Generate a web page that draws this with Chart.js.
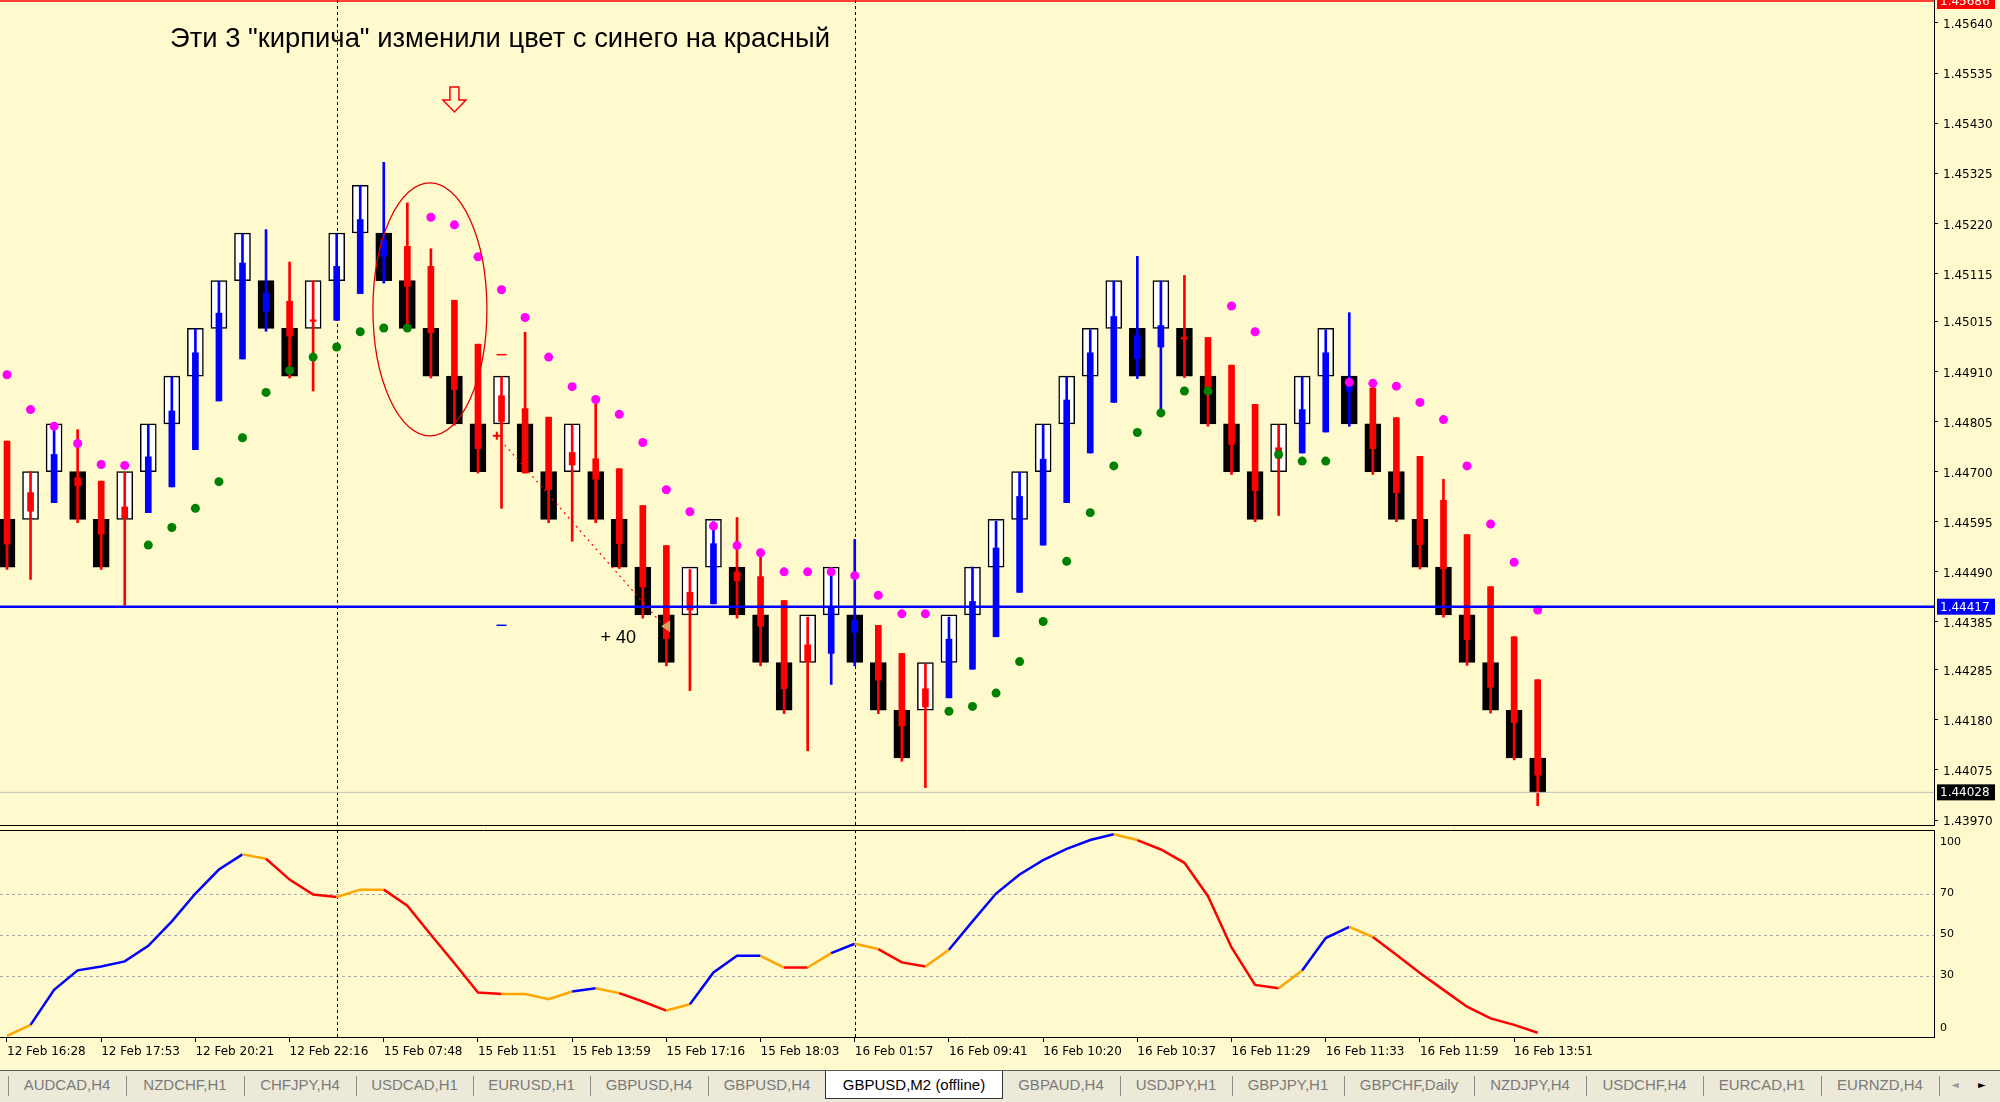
<!DOCTYPE html>
<html>
<head>
<meta charset="utf-8">
<title>GBPUSD,M2 (offline)</title>
<script src="https://cdn.jsdelivr.net/npm/chart.js@4.4.1/dist/chart.umd.min.js"></script>
<style>
  html, body { margin: 0; padding: 0; }
  body { width: 2000px; height: 1102px; overflow: hidden; background: #FFFACD; position: relative; font-family: "Liberation Sans", Arial, sans-serif; }
  canvas { position: absolute; left: 0; }
  #main-chart { top: 0; }
  #osc-chart  { top: 828px; }
  #tabs { position: absolute; left: 0; top: 1070px; width: 2000px; height: 31px; background: #ECE9D8; border-top: 1px solid #5a5a5a; }
  .tab { position: absolute; top: 0; height: 28px; line-height: 28px; text-align: center; font-size: 15px; color: #7a7a7a; white-space: nowrap; }
  .tab.active { height: 27px; background: #fff; color: #000; border: 1px solid #333; border-top: none; margin-left: -1px; }
  .sep { position: absolute; top: 5px; width: 1px; height: 20px; background: #8c8c8c; }
  .arrow { position: absolute; top: 0; line-height: 28px; font-size: 10px; font-family: "DejaVu Sans", sans-serif; }
</style>
</head>
<body>
<canvas id="main-chart" width="2000" height="828"></canvas>
<canvas id="osc-chart" width="2000" height="242"></canvas>
<div id="tabs"></div>

<script>
// renko bricks (open -> close)
const brickOpen = [
  1.4460, 1.4460, 1.4470, 1.4470, 1.4460, 1.4460, 1.4470, 1.4480, 1.4490, 1.4500,
  1.4510, 1.4510, 1.4500, 1.4500, 1.4510, 1.4520, 1.4520, 1.4510, 1.4500, 1.4490,
  1.4480, 1.4480, 1.4480, 1.4470, 1.4470, 1.4470, 1.4460, 1.4450, 1.4440, 1.4440,
  1.4450, 1.4450, 1.4440, 1.4430, 1.4430, 1.4440, 1.4440, 1.4430, 1.4420, 1.4420,
  1.4430, 1.4440, 1.4450, 1.4460, 1.4470, 1.4480, 1.4490, 1.4500, 1.4500, 1.4500,
  1.4500, 1.4490, 1.4480, 1.4470, 1.4470, 1.4480, 1.4490, 1.4490, 1.4480, 1.4470,
  1.4460, 1.4450, 1.4440, 1.4430, 1.4420, 1.4410
];
const brickClose = [
  1.4450, 1.4470, 1.4480, 1.4460, 1.4450, 1.4470, 1.4480, 1.4490, 1.4500, 1.4510,
  1.4520, 1.4500, 1.4490, 1.4510, 1.4520, 1.4530, 1.4510, 1.4500, 1.4490, 1.4480,
  1.4470, 1.4490, 1.4470, 1.4460, 1.4480, 1.4460, 1.4450, 1.4440, 1.4430, 1.4450,
  1.4460, 1.4440, 1.4430, 1.4420, 1.4440, 1.4450, 1.4430, 1.4420, 1.4410, 1.4430,
  1.4440, 1.4450, 1.4460, 1.4470, 1.4480, 1.4490, 1.4500, 1.4510, 1.4490, 1.4510,
  1.4490, 1.4480, 1.4470, 1.4460, 1.4480, 1.4490, 1.4500, 1.4480, 1.4470, 1.4460,
  1.4450, 1.4440, 1.4430, 1.4420, 1.4410, 1.44028
];

// heiken ashi overlay
const haOpen = [
  1.44764, 1.44656, 1.44635, 1.44687, 1.44680, 1.44626, 1.44614, 1.44668, 1.44746, 1.44848,
  1.44936, 1.45036, 1.45057, 1.45018, 1.45017, 1.45073, 1.45151, 1.45172, 1.45130, 1.45059,
  1.44967, 1.44859, 1.44832, 1.44814, 1.44740, 1.44727, 1.44706, 1.44629, 1.44545, 1.44447,
  1.44423, 1.44490, 1.44480, 1.44430, 1.44337, 1.44319, 1.44363, 1.44378, 1.44319, 1.44245,
  1.44226, 1.44286, 1.44354, 1.44447, 1.44546, 1.44635, 1.44739, 1.44845, 1.44937, 1.44961,
  1.44982, 1.44981, 1.44923, 1.44841, 1.44750, 1.44739, 1.44783, 1.44869, 1.44875, 1.44813,
  1.44732, 1.44640, 1.44568, 1.44459, 1.44354, 1.44264
];
const haHigh = [
  1.44764, 1.44700, 1.44788, 1.44788, 1.44680, 1.44699, 1.44797, 1.44898, 1.44998, 1.45099,
  1.45198, 1.45207, 1.45139, 1.45099, 1.45198, 1.45300, 1.45348, 1.45263, 1.45167, 1.45059,
  1.44967, 1.44898, 1.44992, 1.44814, 1.44797, 1.44851, 1.44706, 1.44629, 1.44545, 1.44495,
  1.44595, 1.44604, 1.44536, 1.44430, 1.44395, 1.44490, 1.44558, 1.44378, 1.44319, 1.44297,
  1.44395, 1.44500, 1.44596, 1.44698, 1.44797, 1.44898, 1.44997, 1.45099, 1.45151, 1.45099,
  1.45111, 1.44981, 1.44923, 1.44841, 1.44797, 1.44898, 1.44997, 1.45033, 1.44889, 1.44813,
  1.44732, 1.44684, 1.44568, 1.44459, 1.44354, 1.44264
];
const haLow = [
  1.44495, 1.44474, 1.44635, 1.44593, 1.44495, 1.44420, 1.44614, 1.44668, 1.44746, 1.44848,
  1.44936, 1.44994, 1.44896, 1.44869, 1.45017, 1.45073, 1.45095, 1.44998, 1.44896, 1.44797,
  1.44697, 1.44623, 1.44697, 1.44593, 1.44554, 1.44593, 1.44497, 1.44393, 1.44293, 1.44241,
  1.44423, 1.44393, 1.44293, 1.44193, 1.44115, 1.44254, 1.44293, 1.44193, 1.44093, 1.44038,
  1.44226, 1.44286, 1.44354, 1.44447, 1.44546, 1.44635, 1.44739, 1.44845, 1.44895, 1.44823,
  1.44897, 1.44795, 1.44694, 1.44595, 1.44608, 1.44739, 1.44783, 1.44795, 1.44694, 1.44595,
  1.44496, 1.44395, 1.44294, 1.44194, 1.44096, 1.44000
];
const haClose = [
  1.44548, 1.44617, 1.44736, 1.44670, 1.44569, 1.44603, 1.44731, 1.44827, 1.44949, 1.45032,
  1.45137, 1.45074, 1.44984, 1.45015, 1.45130, 1.45228, 1.45186, 1.45088, 1.44991, 1.44872,
  1.44748, 1.44805, 1.44697, 1.44662, 1.44714, 1.44684, 1.44549, 1.44458, 1.44350, 1.44410,
  1.44549, 1.44471, 1.44376, 1.44245, 1.44302, 1.44415, 1.44389, 1.44263, 1.44167, 1.44207,
  1.44349, 1.44428, 1.44540, 1.44648, 1.44726, 1.44850, 1.44949, 1.45025, 1.44985, 1.45006,
  1.44977, 1.44873, 1.44757, 1.44660, 1.44728, 1.44830, 1.44949, 1.44889, 1.44748, 1.44656,
  1.44547, 1.44496, 1.44348, 1.44248, 1.44174, 1.44064
];

// parabolic SAR, below price (green) and above price (magenta)
const sarBull = [
  null, null, null, null, null, null, 1.44546, 1.44583, 1.44623, 1.44679,
  1.44771, 1.44866, 1.44912, 1.44940, 1.44961, 1.44993, 1.45001, 1.45001, null, null,
  null, null, null, null, null, null, null, null, null, null,
  null, null, null, null, null, null, null, null, null, null,
  1.44198, 1.44208, 1.44236, 1.44302, 1.44386, 1.44512, 1.44614, 1.44712, 1.44782, 1.44823,
  1.44869, 1.44869, null, null, 1.44736, 1.44722, 1.44722, null, null, null,
  null, null, null, null, null, null
];
const sarBear = [
  1.44903, 1.44830, 1.44795, 1.44759, 1.44715, 1.44713, null, null, null, null,
  null, null, null, null, null, null, null, null, 1.45233, 1.45217,
  1.45150, 1.45081, 1.45023, 1.44940, 1.44878, 1.44851, 1.44820, 1.44761, 1.44662, 1.44616,
  1.44586, 1.44545, 1.44530, 1.44490, 1.44490, 1.44490, 1.44482, 1.44441, 1.44402, 1.44402,
  null, null, null, null, null, null, null, null, null, null,
  null, null, 1.45047, 1.44993, null, null, null, 1.44887, 1.44885, 1.44879,
  1.44845, 1.44809, 1.44712, 1.44590, 1.44510, 1.44410
];

// lower window oscillator and the colour of each segment (b rising, r falling, o turn)
const oscValues = [
  0.5, 5.9, 23.0, 32.5, 34.4, 36.9, 44.5, 56.4, 70.0, 81.7,
  89.1, 87.0, 76.8, 69.5, 68.3, 71.9, 71.9, 64.1, 49.9, 36.0,
  21.7, 21.0, 21.0, 18.4, 22.2, 23.8, 21.4, 17.3, 12.9, 16.0,
  31.5, 39.6, 39.6, 33.9, 33.9, 40.9, 45.5, 42.9, 36.4, 34.4,
  42.6, 56.4, 70.0, 79.3, 86.3, 91.8, 96.1, 98.9, 96.1, 91.5,
  85.0, 68.7, 43.7, 25.4, 23.8, 32.5, 48.3, 53.7, 48.8, 40.1,
  31.2, 23.0, 14.8, 9.1, 5.9, 2.1
];
const oscTrend = 'o bbbbbbbbb o rrr oo rrrrr ooo b o rr o bbb o r o b o rr o bbbbbbb o rrrrrr o bb o rrrrrrr'.replace(/ /g, '');
const oscLevels = [30, 50, 70];
const oscLabels = [100, 70, 50, 30, 0];

const priceTicks = [
  1.45640, 1.45535, 1.45430, 1.45325, 1.45220, 1.45115, 1.45015, 1.44910, 1.44805,
  1.44700, 1.44595, 1.44490, 1.44385, 1.44285, 1.44180, 1.44075, 1.43970
];
const timeTickBars = [0, 4, 8, 12, 16, 20, 24, 28, 32, 36, 40, 44, 48, 52, 56, 60, 64];
const timeLabels = [
  '12 Feb 16:28', '12 Feb 17:53', '12 Feb 20:21', '12 Feb 22:16', '15 Feb 07:48', '15 Feb 11:51',
  '15 Feb 13:59', '15 Feb 17:16', '15 Feb 18:03', '16 Feb 01:57', '16 Feb 09:41', '16 Feb 10:20',
  '16 Feb 10:37', '16 Feb 11:29', '16 Feb 11:33', '16 Feb 11:59', '16 Feb 13:51'
];
const separatorBars = [14, 36];

// objects on the chart
const hLines = [
  { price: 1.45686, color: '#FF0000', width: 1.5, label: '#FF0000' },
  { price: 1.44417, color: '#0000FF', width: 2.5, label: '#0000FF' },
  { price: 1.44028, color: '#C0C0C0', width: 1,   label: '#000000' }
];
const titleText   = 'Эти 3 "кирпича" изменили цвет с синего на красный';
const arrowMark   = { bar: 19, price: 1.45506 };
const circleMark  = { bar: 17.96, price: 1.45040, rBars: 2.42, rPrice: 0.00265 };
const tradeOpen   = { bar: 20.8, price: 1.44775 };
const tradeClose  = { bar: 27.95, price: 1.44376 };
const tradeStop   = { bar: 21, price: 1.44945 };
const tradeTarget = { bar: 21, price: 1.44378 };
const tradeProfit = { bar: 25.2, price: 1.44351, text: '+ 40' };

const tabNames = [
  'AUDCAD,H4', 'NZDCHF,H1', 'CHFJPY,H4', 'USDCAD,H1', 'EURUSD,H1', 'GBPUSD,H4', 'GBPUSD,H4',
  'GBPUSD,M2 (offline)', 'GBPAUD,H4', 'USDJPY,H1', 'GBPJPY,H1', 'GBPCHF,Daily', 'NZDJPY,H4',
  'USDCHF,H4', 'EURCAD,H1', 'EURNZD,H4'
];
const activeTab = 7;

const xMin = -0.297, xMax = 81.83;
const priceMin = 1.439596, priceMax = 1.456881;
const UP = '#0000FF', DOWN = '#FF0000';
const segColor = { b: '#0000FF', r: '#FF0000', o: '#FFA500' };

const idx = brickOpen.map((_, i) => i);

const mainDecor = {
  id: 'mainDecor',
  beforeDatasetsDraw(chart) {
    const { ctx, chartArea: a, scales: { x } } = chart;
    ctx.save();
    ctx.strokeStyle = '#000';
    ctx.lineWidth = 1;
    ctx.setLineDash([3, 3]);
    separatorBars.forEach(b => {
      const px = Math.round(x.getPixelForValue(b)) + 0.5;
      ctx.beginPath();
      ctx.moveTo(px, a.top);
      ctx.lineTo(px, a.bottom);
      ctx.stroke();
    });
    ctx.restore();
  },
  afterDatasetsDraw(chart) {
    const { ctx, chartArea: a, scales: { x, y } } = chart;
    ctx.save();

    // horizontal lines + price labels on the axis
    hLines.forEach(l => {
      const py = y.getPixelForValue(l.price);
      ctx.strokeStyle = l.color;
      ctx.lineWidth = l.width;
      ctx.beginPath();
      ctx.moveTo(a.left, py);
      ctx.lineTo(a.right, py);
      ctx.stroke();
      ctx.fillStyle = l.label;
      ctx.fillRect(a.right + 3, py - 8, 58, 16);
      ctx.fillStyle = '#fff';
      ctx.font = '12px "DejaVu Sans"';
      ctx.textBaseline = 'middle';
      ctx.fillText(l.price.toFixed(5), a.right + 6, py + 1);
    });

    // bottom border of the price window
    ctx.strokeStyle = '#000';
    ctx.lineWidth = 1;
    ctx.beginPath();
    ctx.moveTo(a.left, Math.round(a.bottom) + 0.5);
    ctx.lineTo(a.right, Math.round(a.bottom) + 0.5);
    ctx.stroke();

    // ellipse round the three bricks
    const cx = x.getPixelForValue(circleMark.bar);
    const cy = y.getPixelForValue(circleMark.price);
    const rx = x.getPixelForValue(circleMark.bar + circleMark.rBars) - cx;
    const ry = cy - y.getPixelForValue(circleMark.price + circleMark.rPrice);
    ctx.strokeStyle = '#E00000';
    ctx.lineWidth = 1.3;
    ctx.beginPath();
    ctx.ellipse(cx, cy, rx, ry, 0, 0, Math.PI * 2);
    ctx.stroke();

    // hollow arrow
    const ax = x.getPixelForValue(arrowMark.bar);
    const ay = y.getPixelForValue(arrowMark.price);
    ctx.strokeStyle = '#FF0000';
    ctx.lineWidth = 1.5;
    ctx.beginPath();
    ctx.moveTo(ax - 4.5, ay);
    ctx.lineTo(ax + 4.5, ay);
    ctx.lineTo(ax + 4.5, ay + 13);
    ctx.lineTo(ax + 11.5, ay + 13);
    ctx.lineTo(ax, ay + 25);
    ctx.lineTo(ax - 11.5, ay + 13);
    ctx.lineTo(ax - 4.5, ay + 13);
    ctx.closePath();
    ctx.stroke();

    // title
    ctx.font = '27px "Liberation Sans"';
    const fit = 27 * 661 / ctx.measureText(titleText).width;
    ctx.font = fit.toFixed(1) + 'px "Liberation Sans"';
    ctx.fillStyle = '#000';
    ctx.textBaseline = 'alphabetic';
    ctx.fillText(titleText, a.left + 170, a.top + 47);

    // trade: open/close dotted line, stop and target marks
    const ox = x.getPixelForValue(tradeOpen.bar), oy = y.getPixelForValue(tradeOpen.price);
    const tx = x.getPixelForValue(tradeClose.bar), ty = y.getPixelForValue(tradeClose.price);
    ctx.strokeStyle = '#FF0000';
    ctx.lineWidth = 1.2;
    ctx.setLineDash([2, 4]);
    ctx.beginPath();
    ctx.moveTo(ox, oy);
    ctx.lineTo(tx - 3, ty - 2);
    ctx.stroke();
    ctx.setLineDash([]);
    ctx.lineWidth = 2;
    ctx.beginPath();
    ctx.moveTo(ox - 4, oy); ctx.lineTo(ox + 4, oy);
    ctx.moveTo(ox, oy - 4); ctx.lineTo(ox, oy + 4);
    ctx.stroke();

    ctx.fillStyle = '#D9A55A';
    ctx.beginPath();
    ctx.moveTo(tx - 4, ty);
    ctx.lineTo(tx + 5, ty - 6);
    ctx.lineTo(tx + 5, ty + 6);
    ctx.closePath();
    ctx.fill();

    [[tradeStop, '#FF0000'], [tradeTarget, '#0000FF']].forEach(([m, c]) => {
      const mx = x.getPixelForValue(m.bar), my = y.getPixelForValue(m.price);
      ctx.strokeStyle = c;
      ctx.lineWidth = 1.5;
      ctx.beginPath();
      ctx.moveTo(mx - 5, my);
      ctx.lineTo(mx + 5, my);
      ctx.stroke();
    });

    ctx.fillStyle = '#000';
    ctx.font = '18px "Liberation Sans"';
    ctx.textBaseline = 'middle';
    ctx.fillText(tradeProfit.text, x.getPixelForValue(tradeProfit.bar), y.getPixelForValue(tradeProfit.price));

    ctx.restore();
  }
};

new Chart(document.getElementById('main-chart'), {
  type: 'bar',
  data: {
    datasets: [
      {
        data: idx.map(i => ({ x: i, y: [brickOpen[i], brickClose[i]] })),
        backgroundColor: c => brickClose[c.dataIndex] > brickOpen[c.dataIndex] ? '#FFFFFF' : '#000000',
        borderColor: '#000',
        borderWidth: 1.5,
        borderSkipped: false,
        barThickness: 16,
        grouped: false,
        order: 5
      },
      {
        data: idx.map(i => ({ x: i, y: [haLow[i], haHigh[i]] })),
        backgroundColor: c => haClose[c.dataIndex] >= haOpen[c.dataIndex] ? UP : DOWN,
        borderWidth: 0,
        barThickness: 2,
        grouped: false,
        order: 4
      },
      {
        data: idx.map(i => ({ x: i, y: [haOpen[i], haClose[i]] })),
        backgroundColor: c => haClose[c.dataIndex] >= haOpen[c.dataIndex] ? UP : DOWN,
        borderWidth: 0,
        barThickness: 6,
        grouped: false,
        order: 3
      },
      {
        type: 'scatter',
        data: idx.filter(i => sarBull[i] != null).map(i => ({ x: i, y: sarBull[i] })),
        pointRadius: 4.5,
        pointBorderWidth: 0,
        pointBackgroundColor: '#008000',
        order: 2
      },
      {
        type: 'scatter',
        data: idx.filter(i => sarBear[i] != null).map(i => ({ x: i, y: sarBear[i] })),
        pointRadius: 4.5,
        pointBorderWidth: 0,
        pointBackgroundColor: '#FF00FF',
        order: 1
      }
    ]
  },
  options: {
    responsive: false,
    animation: false,
    events: [],
    layout: { autoPadding: false, padding: { top: 0, left: 0, right: 0, bottom: 3 } },
    plugins: { legend: { display: false }, tooltip: { enabled: false } },
    scales: {
      x: { type: 'linear', min: xMin, max: xMax, offset: false, display: false },
      y: {
        type: 'linear',
        position: 'right',
        min: priceMin,
        max: priceMax,
        beginAtZero: false,
        afterBuildTicks: s => { s.ticks = priceTicks.map(v => ({ value: v })); },
        afterFit: s => { s.width = 66; s.paddingTop = 0; s.paddingBottom = 0; },
        grid: { drawOnChartArea: false, tickLength: 4, color: '#000' },
        border: { display: true, color: '#000', width: 1 },
        ticks: {
          autoSkip: false,
          color: '#000',
          padding: 5,
          labelOffset: 2,
          font: { family: 'DejaVu Sans', size: 12 },
          callback: v => v.toFixed(5)
        }
      }
    }
  },
  plugins: [mainDecor]
});

const oscDecor = {
  id: 'oscDecor',
  beforeDatasetsDraw(chart) {
    const { ctx, chartArea: a, scales: { x, y } } = chart;
    ctx.save();
    ctx.lineWidth = 1;
    ctx.setLineDash([3, 3]);
    ctx.strokeStyle = '#A8A8A8';
    oscLevels.forEach(v => {
      const py = Math.round(y.getPixelForValue(v)) + 0.5;
      ctx.beginPath();
      ctx.moveTo(a.left, py);
      ctx.lineTo(a.right, py);
      ctx.stroke();
    });
    ctx.strokeStyle = '#000';
    separatorBars.forEach(b => {
      const px = Math.round(x.getPixelForValue(b)) + 0.5;
      ctx.beginPath();
      ctx.moveTo(px, a.top);
      ctx.lineTo(px, a.bottom);
      ctx.stroke();
    });
    ctx.restore();
  },
  afterDraw(chart) {
    const { ctx, chartArea: a, scales: { y } } = chart;
    ctx.save();
    ctx.strokeStyle = '#000';
    ctx.lineWidth = 1;
    ctx.beginPath();
    ctx.moveTo(a.left, Math.round(a.top) + 0.5);
    ctx.lineTo(Math.round(a.right) + 0.5, Math.round(a.top) + 0.5);
    ctx.lineTo(Math.round(a.right) + 0.5, Math.round(a.bottom) + 0.5);
    ctx.stroke();
    ctx.fillStyle = '#000';
    ctx.font = '11px "DejaVu Sans"';
    ctx.textBaseline = 'middle';
    oscLabels.forEach(v => {
      let py = y.getPixelForValue(v);
      if (v === 100) py += 10;
      if (v === 0) py -= 9;
      ctx.fillText(String(v), a.right + 6, py);
    });
    ctx.restore();
  }
};

new Chart(document.getElementById('osc-chart'), {
  type: 'line',
  data: {
    datasets: [{
      data: oscValues.map((v, i) => ({ x: i, y: v })),
      borderColor: '#0000FF',
      borderWidth: 2.5,
      pointRadius: 0,
      tension: 0,
      segment: { borderColor: c => segColor[oscTrend[c.p0DataIndex]] }
    }]
  },
  options: {
    responsive: false,
    animation: false,
    events: [],
    layout: { autoPadding: false, padding: { top: 2, left: 0, right: 66, bottom: 0 } },
    plugins: { legend: { display: false }, tooltip: { enabled: false } },
    scales: {
      x: {
        type: 'linear',
        min: xMin,
        max: xMax,
        offset: false,
        afterBuildTicks: s => { s.ticks = timeTickBars.map(v => ({ value: v })); },
        afterFit: s => { s.height = 33; s.paddingLeft = 0; s.paddingRight = 0; },
        grid: { drawOnChartArea: false, tickLength: 5, color: '#000' },
        border: { display: true, color: '#000', width: 1 },
        ticks: {
          autoSkip: false,
          maxRotation: 0,
          align: 'start',
          color: '#000',
          padding: 3,
          font: { family: 'DejaVu Sans', size: 12 },
          callback: (v, i) => timeLabels[i]
        }
      },
      y: { display: false, min: 0, max: 101 }
    }
  },
  plugins: [oscDecor]
});

// terminal tab bar
const tabs = document.getElementById('tabs');
const tabEdges = [8, 126, 244, 356, 473, 590, 708, 826, 1002, 1120, 1232, 1344, 1474, 1586, 1703, 1821, 1939];
tabNames.forEach((name, i) => {
  const el = document.createElement('div');
  el.className = 'tab' + (i === activeTab ? ' active' : '');
  el.style.left = tabEdges[i] + 'px';
  el.style.width = (tabEdges[i + 1] - tabEdges[i]) + 'px';
  el.textContent = name;
  tabs.appendChild(el);
});
tabEdges.forEach((e, i) => {
  if (i === activeTab || i === activeTab + 1) return;
  const s = document.createElement('div');
  s.className = 'sep';
  s.style.left = e + 'px';
  tabs.appendChild(s);
});
[['◄', 1951, '#999'], ['►', 1978, '#000']].forEach(([t, left, color]) => {
  const a = document.createElement('div');
  a.className = 'arrow';
  a.style.left = left + 'px';
  a.style.color = color;
  a.textContent = t;
  tabs.appendChild(a);
});
</script>
</body>
</html>
